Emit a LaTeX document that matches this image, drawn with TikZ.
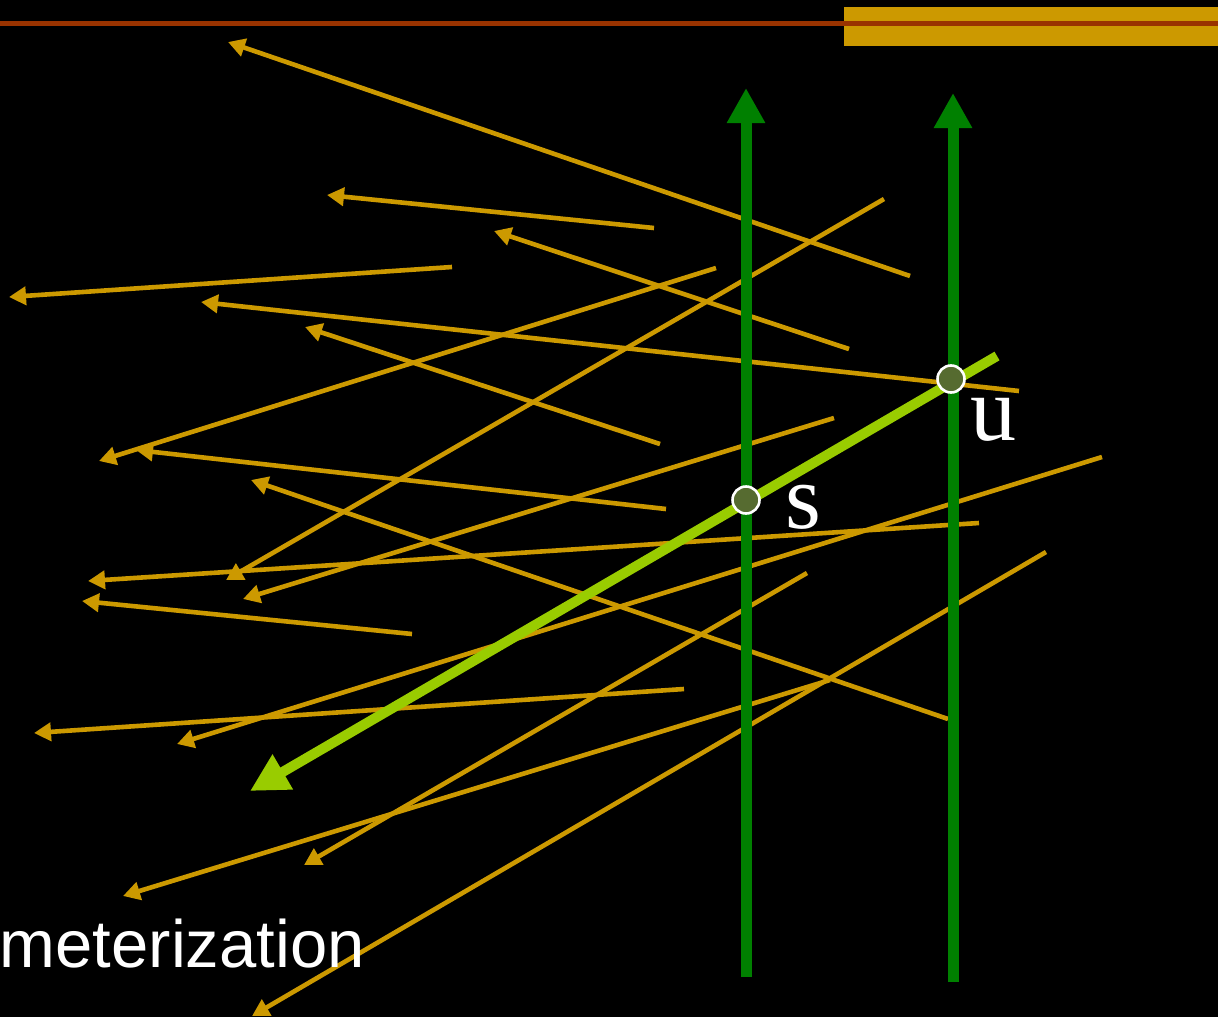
\documentclass[tikz,border=0pt]{standalone}
\usepackage{fontspec}
\usetikzlibrary{arrows.meta}
\newfontfamily\labserif{Liberation Serif}
\newfontfamily\labsans{Liberation Sans}
\definecolor{ray}{HTML}{CC9900}
\definecolor{topline}{HTML}{993300}
\definecolor{plane}{HTML}{008000}
\definecolor{lray}{HTML}{99CC00}
\definecolor{ptfill}{HTML}{566B30}
\begin{document}
\begin{tikzpicture}[x=1pt,y=-1pt,
  rayarrow/.style={draw=ray,line width=4.6pt,-{Triangle[length=17pt,width=18pt]}},
  planearrow/.style={draw=plane,line width=11pt,-{Triangle[length=35pt,width=36pt]}},
  mainray/.style={draw=lray,line width=10pt,-{Triangle[length=38pt,width=38pt]}},
  ptdot/.style={circle,fill=ptfill,draw=white,line width=2.6pt,minimum size=27pt,inner sep=0pt},
  lbl/.style={text=white,inner sep=0pt,anchor=base west,font=\labserif\fontsize{92}{92}\selectfont},
  caption/.style={text=white,inner sep=0pt,anchor=base east,font=\labsans\fontsize{67}{67}\selectfont}]
\fill[black] (0,0) rectangle (1218,1017);
\useasboundingbox (0,0) rectangle (1218,1017);
\clip (0,0) rectangle (1218,1017);
% header
\fill[ray] (844,7) rectangle (1218,46);
\fill[topline] (0,21) rectangle (1218,26);
% ray coordinates (start a, tip b)
\coordinate (a1) at (910,276);  \coordinate (b1) at (228,42);
\coordinate (a2) at (654,228);  \coordinate (b2) at (327,195);
\coordinate (a3) at (849,349);  \coordinate (b3) at (494,231);
\coordinate (a4) at (452,267);  \coordinate (b4) at (9,297);
\coordinate (a5) at (1019,391); \coordinate (b5) at (201,302);
\coordinate (a6) at (660,444);  \coordinate (b6) at (305,327);
\coordinate (a7) at (716,268);  \coordinate (b7) at (99,461);
\coordinate (a8) at (884,199);  \coordinate (b8) at (226,580);
\coordinate (a9) at (666,509);  \coordinate (b9) at (136,450);
\coordinate (a10) at (948,719); \coordinate (b10) at (251,480);
\coordinate (a11) at (834,418); \coordinate (b11) at (243,599);
\coordinate (a12) at (979,523); \coordinate (b12) at (88,581);
\coordinate (a13) at (412,634); \coordinate (b13) at (82,601);
\coordinate (a14) at (1102,457); \coordinate (b14) at (177,744);
\coordinate (a15) at (684,689); \coordinate (b15) at (34,733);
\coordinate (a16) at (807,573); \coordinate (b16) at (304,865);
\coordinate (a17) at (1046,552); \coordinate (b17) at (252,1016);
\coordinate (a18) at (830,680); \coordinate (b18) at (123,896);
\foreach \i in {1,...,18} {\draw[rayarrow] (a\i) -- (b\i);}
% two planes
\coordinate (p1a) at (746,977); \coordinate (p1b) at (746,88);
\coordinate (p2a) at (953,982); \coordinate (p2b) at (953,93);
\draw[planearrow] (p1a) -- (p1b);
\draw[planearrow] (p2a) -- (p2b);
% main ray
\coordinate (ra) at (997,356); \coordinate (rb) at (250,791);
\draw[mainray] (ra) -- (rb);
% intersection points
\node[ptdot] (s) at (746,500) {};
\node[ptdot] (u) at (951,379) {};
\node[lbl] (slab) at (785,528) {s};
\node[lbl] (ulab) at (970,440) {u};
\node[caption] (cap) at (365,967) {meterization};
\end{tikzpicture}
\end{document}
